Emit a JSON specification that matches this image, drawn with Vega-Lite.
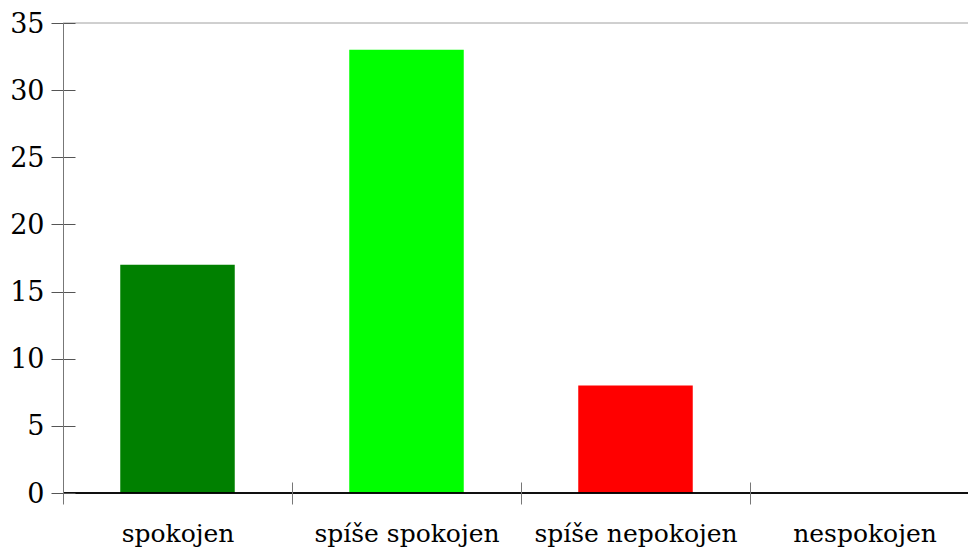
{
  "$schema": "https://vega.github.io/schema/vega-lite/v6.json",
  "width": 905,
  "height": 470,
  "autosize": "none",
  "padding": {"left": 63, "top": 23, "right": 0, "bottom": 55},
  "background": "white",
  "config": {"view": {"stroke": null}, "font": "DejaVu Serif"},
  "data": {
    "values": [
      {"kategorie": "spokojen", "pocet": 17},
      {"kategorie": "spíše spokojen", "pocet": 33},
      {"kategorie": "spíše nepokojen", "pocet": 8},
      {"kategorie": "nespokojen", "pocet": 0}
    ]
  },
  "layer": [
    {
      "mark": {"type": "bar"},
      "encoding": {
        "x": {
          "field": "kategorie",
          "type": "nominal",
          "sort": null,
          "scale": {"range": [0, 916], "paddingInner": 0.5, "paddingOuter": 0.25},
          "axis": {
            "title": null,
            "orient": "bottom",
            "offset": -11,
            "tickSize": 22,
            "domain": false,
            "tickColor": "#777777",
            "tickOffset": -114.5,
            "labelOffset": 114.5,
            "labelAngle": 0,
            "labelFont": "DejaVu Serif",
            "labelFontSize": 25,
            "labelColor": "black",
            "labelBaseline": "alphabetic",
            "labelPadding": 37,
            "labelLimit": 0,
            "zindex": 1
          }
        },
        "y": {
          "field": "pocet",
          "type": "quantitative",
          "scale": {"domain": [0, 35], "nice": false},
          "axis": {
            "title": null,
            "values": [0, 5, 10, 15, 20, 25, 30, 35],
            "tickSize": 12,
            "tickColor": "#555555",
            "domainColor": "#777777",
            "grid": true,
            "gridColor": "#555555",
            "gridOpacity": 1,
            "gridDash": [12, 3000],
            "labelFont": "DejaVu Serif",
            "labelFontSize": 27,
            "labelColor": "black",
            "labelPadding": 7,
            "labelBaseline": "middle",
            "labelOffset": 1,
            "zindex": 1
          }
        },
        "color": {
          "field": "kategorie",
          "type": "nominal",
          "scale": {
            "domain": ["spokojen", "spíše spokojen", "spíše nepokojen", "nespokojen"],
            "range": ["#008000", "#00ff00", "#ff0000", "#800000"]
          },
          "legend": null
        }
      }
    },
    {
      "mark": {"type": "rule", "color": "#cccccc"},
      "encoding": {"y": {"datum": 35}}
    },
    {
      "mark": {"type": "rule", "color": "black"},
      "encoding": {"y": {"datum": 0}}
    }
  ]
}
